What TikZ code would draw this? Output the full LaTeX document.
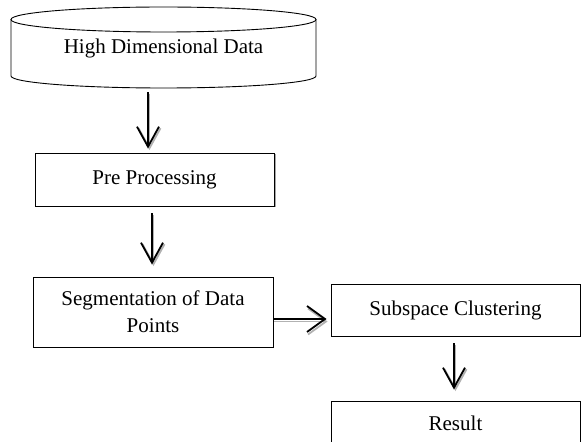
\documentclass[tikz,border=0pt]{standalone}
\usepackage{fontspec}
\setmainfont{Liberation Serif}
\usetikzlibrary{arrows.meta,shadows,calc}

\tikzset{
  box/.style={draw=black, line width=0.9pt, fill=white, rectangle,
              font=\fontsize{21}{27}\selectfont, align=center, inner sep=0pt},
  shadowbox/.style={box, drop shadow={shadow xshift=1.5pt, shadow yshift=-1.5pt,
              fill=gray!70, opacity=1}},
  flow/.style={draw=black, line width=1.8pt,
               -{Straight Barb[length=20pt, width=22pt, line width=1.8pt]}},
  flowshade/.style={flow, draw=gray!60,
               transform canvas={xshift=1.5pt, yshift=-1.5pt}},
  sideflow/.style={draw=black, line width=1.8pt,
               -{Straight Barb[length=18pt, width=26pt, line width=1.8pt]}},
  sideshade/.style={sideflow, draw=gray!60,
               transform canvas={xshift=1pt, yshift=-2.5pt}},
}

\begin{document}
\begin{tikzpicture}[x=1pt, y=1pt]
  \useasboundingbox (0,0) rectangle (582,442);
  \clip (0,0) rectangle (582,442);

  % data store drawn as a cylinder
  \node[minimum width=305pt, minimum height=81pt, inner sep=0pt]
       (db) at (163.5,394.5) {};
  \draw[line width=0.9pt] (163.5,422.5) ellipse [x radius=152.5, y radius=12.5];
  \draw[line width=0.9pt] (11,422.5) -- (11,366)
        arc[start angle=180, end angle=360, x radius=152.5, y radius=12]
        -- (316,422.5);
  \node[font=\fontsize{21}{27}\selectfont] (dbtext) at (163.5,394) {High Dimensional Data};

  % processing steps
  \node[shadowbox, minimum width=239pt, minimum height=53pt]
       (pre) at (154.5,262.5) {Pre Processing};
  \node[box, minimum width=240pt, minimum height=70pt]
       (seg) at (153,130) {Segmentation of Data\\Points};
  \node[box, minimum width=249pt, minimum height=52pt]
       (sub) at (455.5,132) {Subspace Clustering};
  \node[box, minimum width=249pt, minimum height=44pt]
       (res) at (455.5,19) {Result};

  % connectors (grey copy first, black on top)
  \foreach \s in {flowshade, flow}{
    \draw[\s] ([xshift=-15.5pt, yshift=-4pt]db.south) -- ([xshift=-6.5pt, yshift=4pt]pre.north);
    \draw[\s] ([xshift=-2.5pt, yshift=-7pt]pre.south) -- ([xshift=-1pt, yshift=12pt]seg.north);
    \draw[\s] ([xshift=-1.5pt, yshift=-7pt]sub.south) -- ([xshift=-1.5pt, yshift=11pt]res.north);
  }
  \foreach \s in {sideshade, sideflow}{
    \draw[\s] ([yshift=-7pt]seg.east) -- ([xshift=-4pt, yshift=-9pt]sub.west);
  }
\end{tikzpicture}
\end{document}
